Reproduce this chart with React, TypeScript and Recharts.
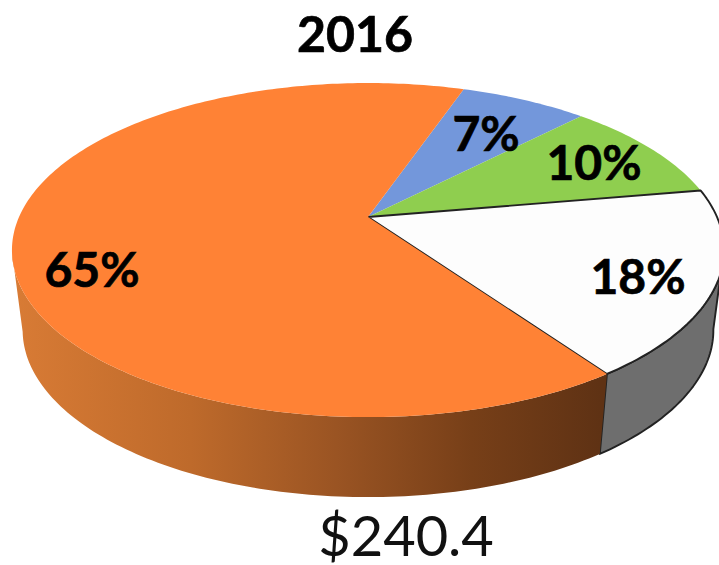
import React from "react";
import { PieChart, Pie } from "recharts";

const categories = ["A", "B", "C", "D"];
const shares = [7, 10, 18, 65];
const labels = ["7%", "10%", "18%", "65%"];
const title = "2016";
const total = "$240.4";

const rows = categories.map((name, i) => ({ name, value: shares[i], text: labels[i] }));

const TOP_FILL: Record<string, string> = { A: "#7397DB", B: "#8FCE4F", C: "#FDFDFD", D: "#FF8235" };
const LABEL_CENTER: Record<string, [number, number]> = { A: [486, 132], B: [594, 161], C: [638, 275], D: [92, 268] };

const TILT = 0.198;
const ASCENT = 160.5;
const WALL_DROP = 80;
const WALL_SHRINK = 0.97;
const DEG = Math.PI / 180;

function project(cx: number, cy: number, r: number, deg: number, wall = false): [number, number] {
  const u = Math.cos(deg * DEG);
  const v = Math.sin(deg * DEG);
  const w = 1 + TILT * v;
  const dx = (r * u) / w;
  const dy = (-ASCENT * (r / 349) * v) / w;
  return wall ? [cx + dx * WALL_SHRINK, cy + dy + WALL_DROP] : [cx + dx, cy + dy];
}

function anglesBetween(a: number, b: number): number[] {
  const n = Math.max(2, Math.ceil(Math.abs(a - b)));
  return Array.from({ length: n + 1 }, (_, i) => a + ((b - a) * i) / n);
}

const TopFace = (p: any) => {
  const { cx, cy, outerRadius, startAngle, endAngle, payload } = p;
  const name = payload?.name ?? p.name;
  const pts = anglesBetween(startAngle, endAngle).map((d) => project(cx, cy, outerRadius, d));
  const d = `M${cx},${cy} ` + pts.map((q) => `L${q[0].toFixed(2)},${q[1].toFixed(2)}`).join(" ") + " Z";
  const outlined = name === "C";
  return (
    <path
      d={d}
      fill={TOP_FILL[name]}
      stroke={outlined ? "#222" : "none"}
      strokeWidth={outlined ? 1.9 : 0}
      strokeLinejoin="round"
    />
  );
};

const WallFace = (p: any) => {
  const { cx, cy, outerRadius, startAngle, endAngle, payload } = p;
  const name = payload?.name ?? p.name;
  if (name !== "C" && name !== "D") return <g />;
  const visible = anglesBetween(startAngle, endAngle).filter((d) => Math.sin(d * DEG) <= -TILT + 0.005);
  if (visible.length < 2) return <g />;
  const top = visible.map((d) => project(cx, cy, outerRadius, d));
  const bottom = visible.map((d) => project(cx, cy, outerRadius, d, true)).reverse();
  const d = "M" + [...top, ...bottom].map((q) => `${q[0].toFixed(2)},${q[1].toFixed(2)}`).join(" L") + " Z";
  if (name === "C") {
    return <path d={d} fill="#6E6E6E" stroke="#222" strokeWidth={1.9} strokeLinejoin="round" />;
  }
  return (
    <g>
      <defs>
        <linearGradient id="wallOrange" gradientUnits="userSpaceOnUse" x1={15} y1={0} x2={600} y2={0}>
          <stop offset="0" stopColor="#D87B35" />
          <stop offset="0.3" stopColor="#BE6A2B" />
          <stop offset="0.55" stopColor="#9A5423" />
          <stop offset="0.78" stopColor="#773F18" />
          <stop offset="1" stopColor="#5F3214" />
        </linearGradient>
      </defs>
      <path d={d} fill="url(#wallOrange)" />
    </g>
  );
};

const renderLabel = (p: any) => {
  const name = p.payload?.name ?? p.name;
  const [x, y] = LABEL_CENTER[name];
  return (
    <text
      x={x}
      y={y}
      textAnchor="middle"
      dominantBaseline="central"
      fontFamily="Lato"
      fontWeight={700}
      fontSize={48}
      stroke="#000"
      strokeWidth={0.7}
      fill="#000"
    >
      {p.payload?.text ?? p.text}
    </text>
  );
};

export default function App() {
  return (
    <div style={{ position: "absolute", left: 0, top: 0, width: 719, height: 565, overflow: "hidden", background: "#fff" }}>
      <PieChart width={719} height={565} margin={{ top: 0, right: 0, bottom: 0, left: 0 }}>
        <Pie
          data={rows}
          dataKey="value"
          nameKey="name"
          cx={368}
          cy={217}
          innerRadius={0}
          outerRadius={349}
          startAngle={71}
          endAngle={-289}
          stroke="none"
          shape={WallFace}
          isAnimationActive={false}
          legendType="none"
        />
        <Pie
          data={rows}
          dataKey="value"
          nameKey="name"
          cx={368}
          cy={217}
          innerRadius={0}
          outerRadius={349}
          startAngle={71}
          endAngle={-289}
          stroke="none"
          shape={TopFace}
          label={renderLabel}
          labelLine={false}
          isAnimationActive={false}
          legendType="none"
        />
        <text x={355} y={52} textAnchor="middle" fontFamily="Lato" fontWeight={700} fontSize={50} stroke="#000" strokeWidth={0.7} fill="#000">
          {title}
        </text>
        <text x={406} y={556} textAnchor="middle" fontFamily="Lato" fontWeight={400} fontSize={56} fill="#111">
          {total}
        </text>
      </PieChart>
    </div>
  );
}
